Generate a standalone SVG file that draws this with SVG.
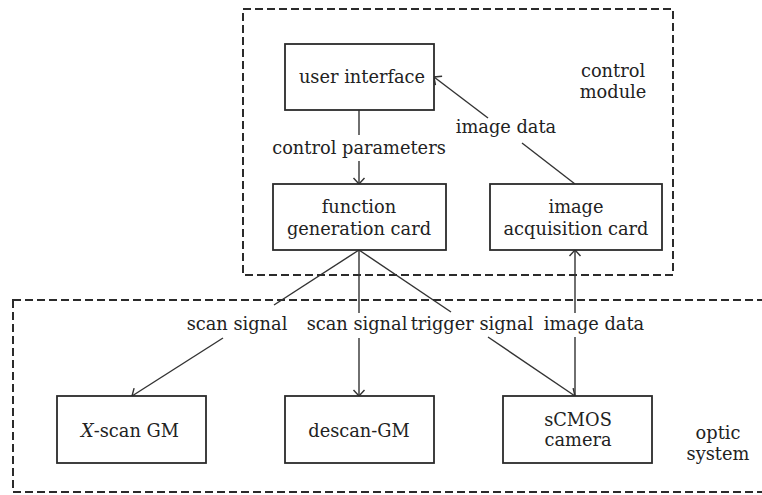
<svg xmlns="http://www.w3.org/2000/svg" width="762" height="495" viewBox="0 0 762 495">
<style>
.grp{fill:none;stroke:#2b2b2b;stroke-width:2;stroke-dasharray:8,4}
.box{fill:#fff;stroke:#2b2b2b;stroke-width:1.8}
.ln{fill:none;stroke:#333;stroke-width:1.4}
text{font-family:"DejaVu Serif","Liberation Serif",serif;font-size:17.8px;fill:#222;text-anchor:middle}
</style>
<defs>
<marker id="ah" markerUnits="userSpaceOnUse" markerWidth="14" markerHeight="14" viewBox="-8 -7 10 14" refX="0" refY="0" orient="auto">
<path d="M-6,-5.5 L0,0 L-6,5.5" fill="none" stroke="#333" stroke-width="1.4"/>
</marker>
</defs>
<g id="control-module">
<rect class="grp" x="243" y="9" width="430" height="266"/>
<text x="613" y="77">control</text>
<text x="613" y="98">module</text>
</g>
<g id="optic-system">
<rect class="grp" x="13" y="300" width="760" height="192"/>
<text x="718" y="439">optic</text>
<text x="718" y="460">system</text>
</g>
<g id="connectors">
<path class="ln" d="M359,110 L359,135"/>
<path class="ln" d="M359,161 L359,184" marker-end="url(#ah)"/>
<path class="ln" d="M575,184 L522,143"/>
<path class="ln" d="M488,118 L434,77" marker-end="url(#ah)"/>
<path class="ln" d="M359,250 L274,305"/>
<path class="ln" d="M223,338 L132,396" marker-end="url(#ah)"/>
<path class="ln" d="M359,250 L359,313"/>
<path class="ln" d="M359,338 L359,396" marker-end="url(#ah)"/>
<path class="ln" d="M359,250 L451,312"/>
<path class="ln" d="M488,337 L575,396" marker-end="url(#ah)"/>
<path class="ln" d="M575,396 L575,337"/>
<path class="ln" d="M575,313 L575,250" marker-end="url(#ah)"/>
<text x="359" y="154">control parameters</text>
<text x="506" y="133">image data</text>
<text x="237" y="330">scan signal</text>
<text x="357" y="330">scan signal</text>
<text x="472" y="330">trigger signal</text>
<text x="594" y="330">image data</text>
</g>
<g id="user-interface">
<rect class="box" x="285" y="44" width="149" height="66"/>
<text x="362" y="83">user interface</text>
</g>
<g id="function-generation-card">
<rect class="box" x="273" y="184" width="173" height="66"/>
<text x="359" y="213">function</text>
<text x="359" y="235">generation card</text>
</g>
<g id="image-acquisition-card">
<rect class="box" x="490" y="184" width="172" height="66"/>
<text x="576" y="213">image</text>
<text x="576" y="235">acquisition card</text>
</g>
<g id="x-scan-gm">
<rect class="box" x="57" y="396" width="149" height="67"/>
<text x="130" y="437"><tspan font-style="italic">X</tspan>-scan GM</text>
</g>
<g id="descan-gm">
<rect class="box" x="285" y="396" width="149" height="67"/>
<text x="359" y="437">descan-GM</text>
</g>
<g id="scmos-camera">
<rect class="box" x="503" y="396" width="149" height="67"/>
<text x="578" y="426">sCMOS</text>
<text x="578" y="446">camera</text>
</g>
</svg>
